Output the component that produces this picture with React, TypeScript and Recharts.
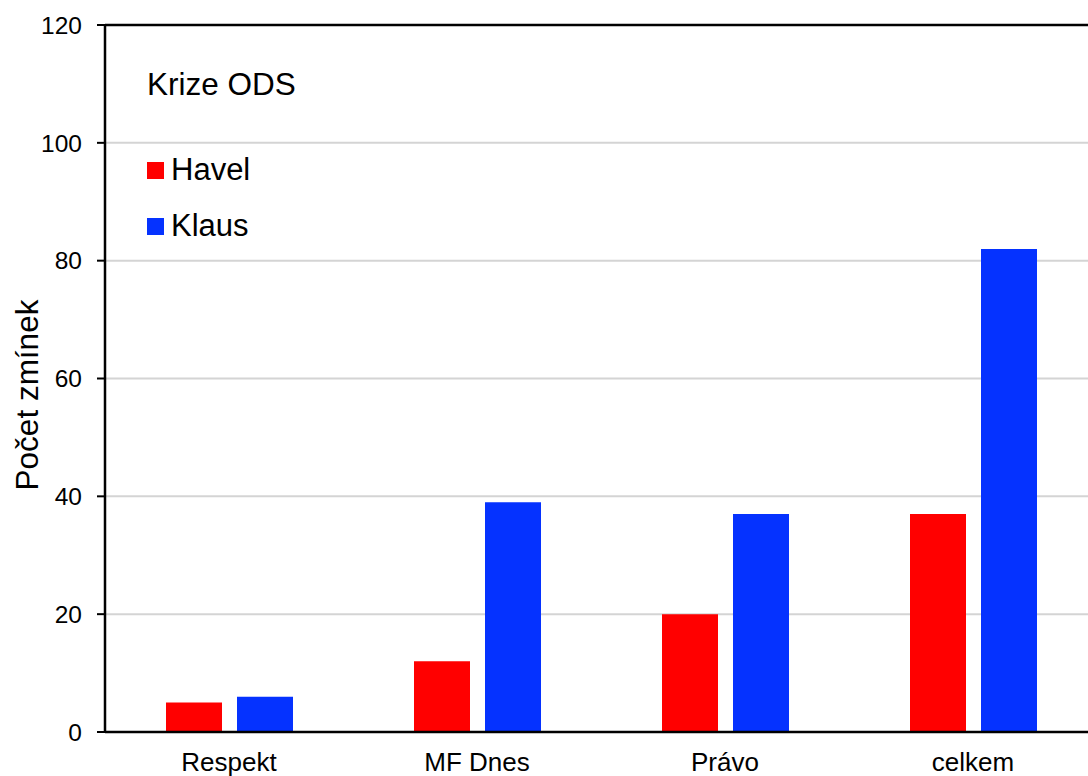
import React from "react";
import { BarChart, Bar, XAxis, YAxis, CartesianGrid, ReferenceLine } from "recharts";

const categories = ["Respekt", "MF Dnes", "Právo", "celkem"];
const havel = [5, 12, 20, 37];
const klaus = [6, 39, 37, 82];
const yTicks = [0, 20, 40, 60, 80, 100, 120];

const series = [
	{ key: "havel", name: "Havel", color: "#FF0000" },
	{ key: "klaus", name: "Klaus", color: "#0532FF" },
];

const data = categories.map((c, i) => ({ name: c, havel: havel[i], klaus: klaus[i] }));

const FONT = '"Liberation Sans", Arial, sans-serif';

export default function App() {
	return (
		<div
			style={{
				position: "absolute",
				left: 0,
				top: 0,
				width: 1088,
				height: 776,
				overflow: "hidden",
				background: "#fff",
				fontFamily: FONT,
			}}
		>
			<BarChart
				width={1100}
				height={776}
				data={data}
				margin={{ top: 25, right: 3, left: 0, bottom: 0 }}
				barCategoryGap={61}
				barGap={15}
			>
				<CartesianGrid vertical={false} stroke="#d4d4d4" strokeWidth={2} />
				<XAxis
					dataKey="name"
					height={44}
					tickLine={false}
					tickSize={0}
					tickMargin={21}
					axisLine={{ stroke: "#000", strokeWidth: 2.5 }}
					tick={{ fontSize: 26, fill: "#000", fontFamily: FONT }}
				/>
				<YAxis
					width={105}
					domain={[0, 120]}
					ticks={yTicks}
					interval={0}
					tickSize={8}
					tickMargin={15}
					axisLine={{ stroke: "#000", strokeWidth: 2.5 }}
					tickLine={{ stroke: "#000", strokeWidth: 2 }}
					tick={{ fontSize: 24.5, fill: "#000", fontFamily: FONT }}
				/>
				<ReferenceLine y={120} stroke="#000" strokeWidth={2.5} />
				{series.map((s) => (
					<Bar key={s.key} dataKey={s.key} name={s.name} fill={s.color} isAnimationActive={false} />
				))}
			</BarChart>
			<svg
				width={1088}
				height={776}
				style={{ position: "absolute", left: 0, top: 0, pointerEvents: "none" }}
			>
				<text x={147} y={95} fontSize={31.5} fontFamily={FONT} fill="#000">
					Krize ODS
				</text>
				{series.map((s, i) => (
					<g key={s.key}>
						<rect x={147} y={162 + 56 * i} width={17} height={17} fill={s.color} />
						<text x={171} y={180 + 56 * i} fontSize={31} fontFamily={FONT} fill="#000">
							{s.name}
						</text>
					</g>
				))}
				<text
					transform="translate(38, 395) rotate(-90)"
					textAnchor="middle"
					fontSize={31.5}
					fontFamily={FONT}
					fill="#000"
				>
					Počet zmínek
				</text>
			</svg>
		</div>
	);
}
